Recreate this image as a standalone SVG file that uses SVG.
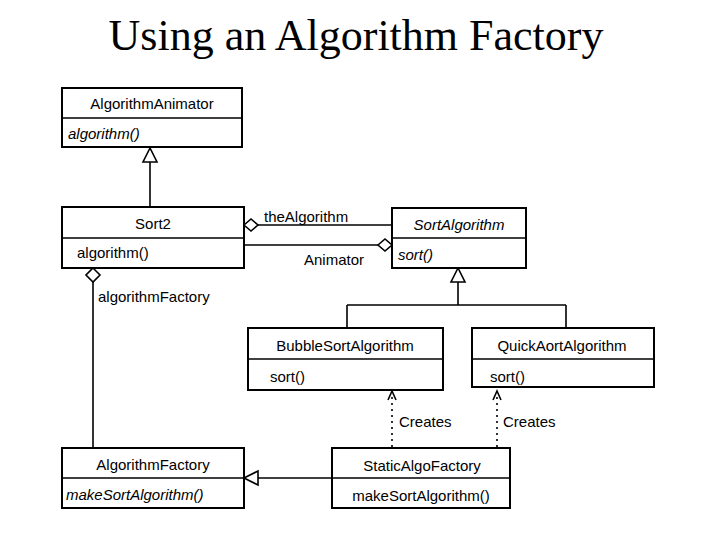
<svg xmlns="http://www.w3.org/2000/svg" width="720" height="540" viewBox="0 0 720 540">
<style>
.box{fill:#fff;stroke:#000;stroke-width:2}
.ln{stroke:#000;stroke-width:1.6;fill:none}
.t{font-family:"Liberation Sans",Arial,sans-serif;font-size:15px;fill:#000}
.i{font-style:italic}
.title{font-family:"Liberation Serif","Times New Roman",serif;font-size:44px;fill:#000}
</style>
<rect width="720" height="540" fill="#fff"/>
<text class="title" x="356" y="50" text-anchor="middle">Using an Algorithm Factory</text>
<g id="connectors">
<path class="ln" d="M150,162 V207"/><path class="ln" d="M150,148 L143,162 H157 Z" fill="#fff"/>
<path class="ln" d="M258,225 H392"/><path class="ln" d="M244,225 L251,219 L258,225 L251,231 Z" fill="#fff"/>
<path class="ln" d="M244,245 H378"/><path class="ln" d="M378,245 L385,239 L392,245 L385,251 Z" fill="#fff"/>
<path class="ln" d="M458,282 V305 M347,305 H566 M347,305 V328 M566,305 V328"/><path class="ln" d="M458,268 L451,282 H465 Z" fill="#fff"/>
<path class="ln" d="M93,282 V448"/><path class="ln" d="M93,268 L100,275 L93,282 L86,275 Z" fill="#fff"/>
<path class="ln" d="M258,478 H332"/><path class="ln" d="M244,478 L258,471 V485 Z" fill="#fff"/>
<path class="ln" d="M392,447 V392" stroke-dasharray="2,4"/><path class="ln" d="M388,400 L392,391 L396,400"/>
<path class="ln" d="M497,447 V392" stroke-dasharray="2,4"/><path class="ln" d="M493,400 L497,391 L501,400"/>
<text class="t" x="264" y="222">theAlgorithm</text>
<text class="t" x="304" y="265">Animator</text>
<text class="t" x="98" y="302">algorithmFactory</text>
<text class="t" x="399" y="427">Creates</text>
<text class="t" x="503" y="427">Creates</text>
</g>
<g id="AlgorithmAnimator"><rect class="box" x="62" y="88" width="180" height="59"/><line class="ln" x1="62" y1="118" x2="242" y2="118"/>
<text class="t" x="152" y="109" text-anchor="middle">AlgorithmAnimator</text><text class="t i" x="68" y="139">algorithm()</text></g>
<g id="Sort2"><rect class="box" x="62" y="207" width="182" height="61"/><line class="ln" x1="62" y1="238" x2="244" y2="238"/>
<text class="t" x="153" y="229" text-anchor="middle">Sort2</text><text class="t" x="77" y="258">algorithm()</text></g>
<g id="SortAlgorithm"><rect class="box" x="392" y="208" width="134" height="60"/><line class="ln" x1="392" y1="238" x2="526" y2="238"/>
<text class="t i" x="459" y="230" text-anchor="middle">SortAlgorithm</text><text class="t i" x="398" y="260">sort()</text></g>
<g id="BubbleSortAlgorithm"><rect class="box" x="248" y="328" width="195" height="62"/><line class="ln" x1="248" y1="359" x2="443" y2="359"/>
<text class="t" x="345" y="351" text-anchor="middle">BubbleSortAlgorithm</text><text class="t" x="270" y="382">sort()</text></g>
<g id="QuickAortAlgorithm"><rect class="box" x="472" y="328" width="182" height="59"/><line class="ln" x1="472" y1="359" x2="654" y2="359"/>
<text class="t" x="562" y="351" text-anchor="middle">QuickAortAlgorithm</text><text class="t" x="490" y="382">sort()</text></g>
<g id="AlgorithmFactory"><rect class="box" x="62" y="448" width="182" height="60"/><line class="ln" x1="62" y1="478" x2="244" y2="478"/>
<text class="t" x="153" y="470" text-anchor="middle">AlgorithmFactory</text><text class="t i" x="66" y="500">makeSortAlgorithm()</text></g>
<g id="StaticAlgoFactory"><rect class="box" x="332" y="448" width="178" height="60"/><line class="ln" x1="332" y1="478" x2="510" y2="478"/>
<text class="t" x="422" y="471" text-anchor="middle">StaticAlgoFactory</text><text class="t" x="421" y="501" text-anchor="middle">makeSortAlgorithm()</text></g>
</svg>
